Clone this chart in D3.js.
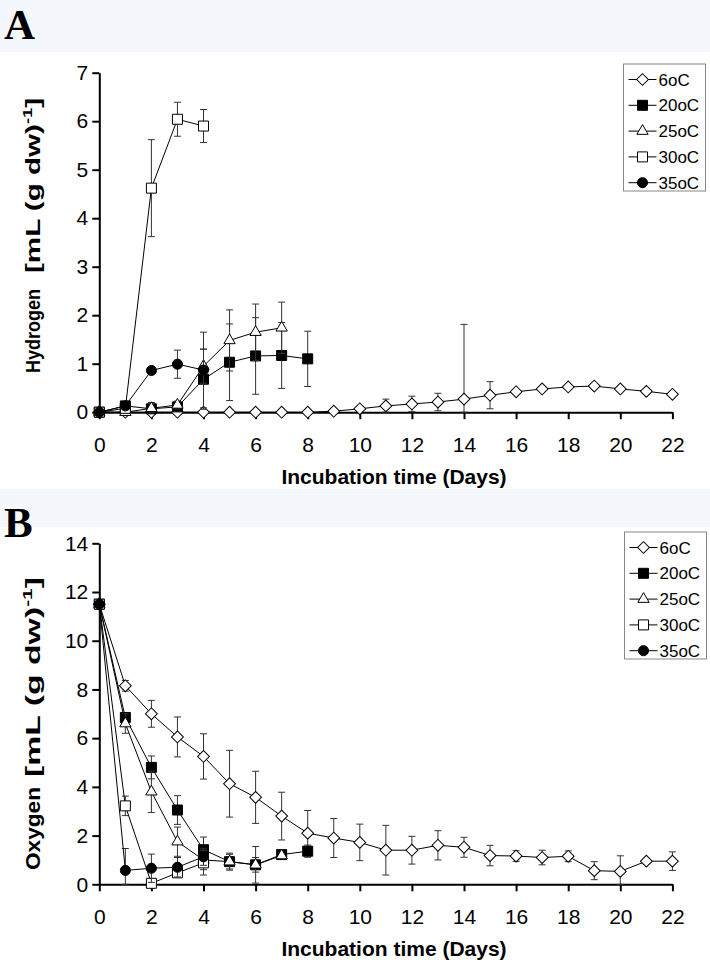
<!DOCTYPE html>
<html>
<head>
<meta charset="utf-8">
<script src="https://cdn.jsdelivr.net/npm/d3@7"></script>
<style>
  body { margin: 0; background: #fff; }
  svg { display: block; font-family: "Liberation Sans", Arial, sans-serif; }
</style>
</head>
<body>
<svg id="fig" width="710" height="972"></svg>
<script>
// legend entries / series
const seriesNames = ["6oC", "20oC", "25oC", "30oC", "35oC"];
const xTicks = [0, 2, 4, 6, 8, 10, 12, 14, 16, 18, 20, 22];
const h2Ticks = [0, 1, 2, 3, 4, 5, 6, 7];
const o2Ticks = [0, 2, 4, 6, 8, 10, 12, 14];

// sampling days for each temperature
const days6  = [0, 1, 2, 3, 4, 5, 6, 7, 8, 9, 10, 11, 12, 13, 14, 15, 16, 17, 18, 19, 20, 21, 22];
const days20 = [0, 1, 2, 3, 4, 5, 6, 7, 8];
const days25 = [0, 1, 2, 3, 4, 5, 6, 7];
const days30 = [0, 1, 2, 3, 4];
const days35 = [0, 1, 2, 3, 4];

// A - hydrogen, mL (g dw)-1, mean and sd
const h2_6     = [0, 0, 0, 0, 0, 0, 0, 0, 0, 0.02, 0.07, 0.13, 0.17, 0.21, 0.27, 0.35, 0.42, 0.48, 0.52, 0.54, 0.48, 0.43, 0.37];
const h2_6_sd  = [0, 0, 0, 0, 0, 0, 0, 0, 0, 0.02, 0.05, 0.14, 0.16, 0.18, 1.54, 0.28, 0.03, 0.03, 0.03, 0.03, 0.03, 0.02, 0.02];
const h2_20    = [0, 0.13, 0.07, 0.11, 0.68, 1.03, 1.16, 1.17, 1.10];
const h2_20_sd = [0, 0.04, 0.04, 0.05, 0.62, 0.79, 0.79, 0.68, 0.57];
const h2_25    = [0, 0, 0.08, 0.15, 0.95, 1.48, 1.65, 1.74];
const h2_25_sd = [0, 0, 0.12, 0.08, 0.35, 0.63, 0.58, 0.53];
const h2_30    = [0, 0.08, 4.62, 6.04, 5.90];
const h2_30_sd = [0, 0, 1.00, 0.35, 0.34];
const h2_35    = [0, 0.13, 0.86, 0.99, 0.87];
const h2_35_sd = [0, 0.03, 0.03, 0.29, 0.78];

// B - oxygen, mL (g dw)-1, mean and sd
const o2_6     = [11.5, 8.15, 7.0, 6.05, 5.25, 4.13, 3.57, 2.8, 2.1, 1.9, 1.72, 1.4, 1.4, 1.6, 1.52, 1.18, 1.16, 1.1, 1.15, 0.56, 0.53, 0.95, 0.95];
const o2_6_sd  = [0, 0.22, 0.55, 0.82, 0.93, 1.37, 1.07, 0.98, 0.93, 0.8, 0.75, 1.02, 0.57, 0.6, 0.41, 0.42, 0.22, 0.3, 0.22, 0.37, 0.64, 0.1, 0.38];
const o2_20    = [11.5, 6.85, 4.8, 3.05, 1.42, 0.93, 0.8, 1.22, 1.36];
const o2_20_sd = [0, 0.15, 0.47, 0.59, 0.52, 0.35, 0.3, 0.15, 0.25];
const o2_25    = [11.5, 6.6, 3.8, 1.75, 1.0, 0.93, 0.8, 1.18];
const o2_25_sd = [0, 0.4, 0.85, 0.6, 0.4, 0.3, 0.75, 0.1];
const o2_30    = [11.5, 3.22, 0.04, 0.47, 0.88];
const o2_30_sd = [0, 0.4, 0.05, 0.15, 0.5];
const o2_35    = [11.5, 0.57, 0.66, 0.7, 1.13];
const o2_35_sd = [0, 0.9, 0.58, 0.4, 0.35];

const shapes = ["diamond", "square", "triangle", "osquare", "circle"];

const svg = d3.select("#fig");
const x = d3.scaleLinear().domain([0, 22]).range([99.3, 672.4]);

// marker path + whether filled
function marker(shape) {
    if (shape === "diamond") return { d: d3.symbol(d3.symbolSquare, 70)(), rot: 45, fill: "#fff" };
    if (shape === "square") return { d: d3.symbol(d3.symbolSquare, 100)(), rot: 0, fill: "#000" };
    if (shape === "osquare") return { d: d3.symbol(d3.symbolSquare, 100)(), rot: 0, fill: "#fff" };
    if (shape === "triangle") return { d: d3.symbol(d3.symbolTriangle, 55)(), rot: 0, fill: "#fff" };
    return { d: d3.symbol(d3.symbolCircle, 80)(), rot: 0, fill: "#000" };
}

function drawPanel(p) {
    const y = d3.scaleLinear().domain([0, p.yMax]).range([p.y0, p.y1]).clamp(true);
    const g = svg.append("g");

    // light header strip
    g.append("rect").attr("x", 0).attr("y", p.stripY).attr("width", 710).attr("height", p.stripH)
        .attr("fill", "#f4f8fc");

    g.append("text").attr("x", 4).attr("y", p.letterY)
        .attr("font-family", "'Liberation Serif', 'Times New Roman', serif")
        .attr("font-weight", "bold").attr("font-size", 43).text(p.letter);

    // axes
    const xAxis = d3.axisBottom(x).tickValues(xTicks).tickSize(7).tickSizeOuter(0).tickPadding(18);
    const gx = g.append("g").attr("transform", "translate(0," + p.y0 + ")").call(xAxis);
    const yAxis = d3.axisLeft(y).tickValues(p.yTicks).tickFormat(d3.format("d"))
        .tickSize(7).tickSizeOuter(0).tickPadding(4);
    const gy = g.append("g").attr("transform", "translate(" + x(0) + ",0)").call(yAxis);
    [gx, gy].forEach(a => {
        a.select(".domain").attr("stroke-width", 2);
        a.selectAll(".tick line").attr("stroke-width", 2);
        a.selectAll(".tick text").attr("font-size", 21).attr("fill", "#000");
    });

    // axis titles
    g.append("text").attr("x", 394).attr("y", p.y0 + 72).attr("text-anchor", "middle")
        .attr("font-weight", "bold").attr("font-size", 21).text("Incubation time (Days)");

    const yt = g.append("g").attr("transform", "translate(40,0) rotate(-90)");
    yt.append("text").attr("x", -p.nameC).attr("y", 0).attr("text-anchor", "middle")
        .attr("font-weight", "bold").attr("font-size", 21)
        .attr("textLength", p.nameL).attr("lengthAdjust", "spacingAndGlyphs").text(p.name);
    const ut = yt.append("text").attr("x", -p.unitC).attr("y", 0).attr("text-anchor", "middle")
        .attr("font-weight", "bold").attr("font-size", 21)
        .attr("textLength", p.unitL).attr("lengthAdjust", "spacingAndGlyphs");
    ut.append("tspan").text("[mL (g dw)");
    ut.append("tspan").attr("dy", -8).attr("font-size", 13).text("-1");
    ut.append("tspan").attr("dy", 8).text("]");

    // series
    p.series.forEach((s, si) => {
        const pts = s.days.map((d, i) => ({ d: d, v: s.vals[i], e: s.sd[i] }));
        const m = marker(shapes[si]);
        const sg = g.append("g");

        const eb = sg.selectAll(".eb").data(pts.filter(q => q.e > 0)).enter().append("g")
            .attr("stroke", "#333").attr("stroke-width", 1);
        eb.append("line").attr("x1", q => x(q.d)).attr("x2", q => x(q.d))
            .attr("y1", q => y(q.v - q.e)).attr("y2", q => y(q.v + q.e));
        eb.append("line").attr("x1", q => x(q.d) - 3.5).attr("x2", q => x(q.d) + 3.5)
            .attr("y1", q => y(q.v + q.e)).attr("y2", q => y(q.v + q.e));
        eb.append("line").attr("x1", q => x(q.d) - 3.5).attr("x2", q => x(q.d) + 3.5)
            .attr("y1", q => y(q.v - q.e)).attr("y2", q => y(q.v - q.e));

        sg.append("path").datum(pts)
            .attr("d", d3.line().x(q => x(q.d)).y(q => y(q.v)))
            .attr("fill", "none").attr("stroke", "#000").attr("stroke-width", 1);

        sg.selectAll(".pt").data(pts).enter().append("path")
            .attr("d", m.d)
            .attr("transform", q => "translate(" + x(q.d) + "," + y(q.v) + ") rotate(" + m.rot + ")")
            .attr("fill", m.fill).attr("stroke", "#000").attr("stroke-width", 1);
    });

    // legend
    const lg = g.append("g").attr("transform", "translate(" + p.legX + "," + p.legY + ")");
    lg.append("rect").attr("x", 0).attr("y", 0).attr("width", 82).attr("height", 127)
        .attr("fill", "#fff").attr("stroke", "#888").attr("stroke-width", 1);
    seriesNames.forEach((n, i) => {
        const ry = 15.5 + i * 25.8;
        const m = marker(shapes[i]);
        lg.append("line").attr("x1", 5).attr("x2", 33).attr("y1", ry).attr("y2", ry)
            .attr("stroke", "#000").attr("stroke-width", 1);
        lg.append("path").attr("d", m.d)
            .attr("transform", "translate(19," + ry + ") rotate(" + m.rot + ")")
            .attr("fill", m.fill).attr("stroke", "#000").attr("stroke-width", 1);
        lg.append("text").attr("x", 35).attr("y", ry + 6).attr("font-size", 17).text(n);
    });
}

drawPanel({
    letter: "A", letterY: 39, stripY: 0, stripH: 52,
    yMax: 7, y0: 412.2, y1: 72.7, yTicks: h2Ticks,
    name: "Hydrogen", nameC: 331, nameL: 84, unitC: 185.5, unitL: 175,
    legX: 623.5, legY: 64,
    series: [
        { days: days6, vals: h2_6, sd: h2_6_sd },
        { days: days20, vals: h2_20, sd: h2_20_sd },
        { days: days25, vals: h2_25, sd: h2_25_sd },
        { days: days30, vals: h2_30, sd: h2_30_sd },
        { days: days35, vals: h2_35, sd: h2_35_sd }
    ]
});

drawPanel({
    letter: "B", letterY: 537, stripY: 489, stripH: 38,
    yMax: 14, y0: 884.3, y1: 543.3, yTicks: o2Ticks,
    name: "Oxygen", nameC: 828.5, nameL: 83, unitC: 677, unitL: 200,
    legX: 624.5, legY: 532,
    series: [
        { days: days6, vals: o2_6, sd: o2_6_sd },
        { days: days20, vals: o2_20, sd: o2_20_sd },
        { days: days25, vals: o2_25, sd: o2_25_sd },
        { days: days30, vals: o2_30, sd: o2_30_sd },
        { days: days35, vals: o2_35, sd: o2_35_sd }
    ]
});
</script>
</body>
</html>
